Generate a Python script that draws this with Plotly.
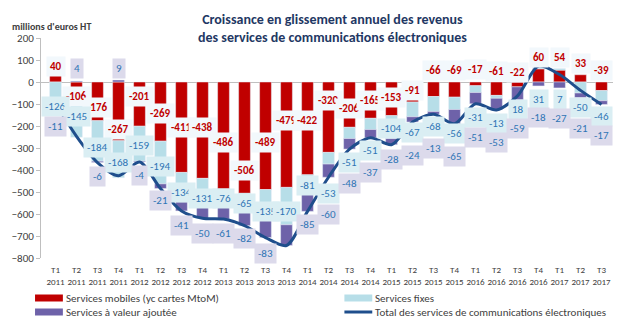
import plotly.graph_objects as go

quarters = ["T1<br>2011", "T2<br>2011", "T3<br>2011", "T4<br>2011",
            "T1<br>2012", "T2<br>2012", "T3<br>2012", "T4<br>2012",
            "T1<br>2013", "T2<br>2013", "T3<br>2013", "T4<br>2013",
            "T1<br>2014", "T2<br>2014", "T3<br>2014", "T4<br>2014",
            "T1<br>2015", "T2<br>2015", "T3<br>2015", "T4<br>2015",
            "T1<br>2016", "T2<br>2016", "T3<br>2016", "T4<br>2016",
            "T1<br>2017", "T2<br>2017", "T3<br>2017"]

mobiles = [40, -106, -176, -267, -201, -269, -411, -438, -486, -506, -489, -479, -422,
           -320, -206, -165, -153, -91, -66, -69, -17, -61, -22, 60, 54, 33, -39]
fixes = [-126, -145, -184, -168, -159, -194, -134, -131, -76, -65, -135, -170, -81,
         -53, -51, -51, -104, -67, -68, -56, -31, -13, 18, 31, 7, -50, -46]
vas = [-11, 4, -6, 9, -4, -21, -41, -50, -61, -82, -83, -94, -85,
       -60, -48, -37, -28, -24, -13, -65, -51, -53, -59, -18, -27, -21, -17]
total = [m + f + v for m, f, v in zip(mobiles, fixes, vas)]

# label anchor positions (value-axis units), as placed in the original chart
lbl_mob = [70, -64, -115, -215, -64, -143, -205, -205, -273, -400, -273, -174, -174,
           -83, -121, -83, -69, -38, 53, 53, 58, 49, 45, 113, 113, 85, 53]
lbl_fix = [-111, -156, -296, -365, -288, -386, -502, -530, -530, -553, -590, -590, -470,
           -507, -365, -311, -211, -229, -202, -234, -160, -188, -125, -80, -80, -115, -156]
lbl_vas = [-202, 62, -429, 62, -424, -538, -652, -688, -688, -711, -779, -802, -647,
           -602, -461, -411, -352, -334, -302, -338, -252, -273, -211, -160, -165, -211, -243]

C_MOB = "#C00000"
C_FIX = "#B7DEE8"
C_VAS = "#6E62A9"
C_TOT = "#1F4E8C"
FONT = "Calibri, Carlito, Lato, sans-serif"

W, H = 630, 326
ML, MR, MT, MB = 38, 17, 38, 68

fig = go.Figure()
fig.add_trace(go.Bar(x=quarters, y=mobiles, marker_color=C_MOB, name="Services mobiles (yc cartes MtoM)"))
fig.add_trace(go.Bar(x=quarters, y=fixes, marker_color=C_FIX, name="Services fixes"))
fig.add_trace(go.Bar(x=quarters, y=vas, marker_color=C_VAS, name="Services à valeur ajoutée"))
fig.add_trace(go.Scatter(x=quarters, y=total, mode="lines", line=dict(color=C_TOT, width=3, shape="spline", smoothing=0.8),
                         name="Total des services de communications électroniques"))

anns = []
for i, q in enumerate(quarters):
    anns.append(dict(x=q, y=lbl_mob[i], text="<b>%d</b>" % mobiles[i], showarrow=False,
                     font=dict(family=FONT, size=11, color=C_MOB), bgcolor="#F2F8FC", borderpad=3))
for i, q in enumerate(quarters):
    anns.append(dict(x=q, y=lbl_fix[i], text="%d" % fixes[i], showarrow=False,
                     font=dict(family=FONT, size=11, color="#2F75B5"), bgcolor="#DAEEF3", borderpad=3))
for i, q in enumerate(quarters):
    anns.append(dict(x=q, y=lbl_vas[i], text="%d" % vas[i], showarrow=False,
                     font=dict(family=FONT, size=11, color="#2F75B5"), bgcolor="#DCDAEB", borderpad=3))

PW = W - ML - MR
PH = H - MT - MB
def px(x):
    return (x - ML) / PW
def py(y):
    return (H - MB - y) / PH

# title and axis title
anns.append(dict(xref="paper", yref="paper", x=px(331), y=py(28), xanchor="center", yanchor="middle",
                 text="<b>Croissance en glissement annuel des revenus<br>des services de communications électroniques</b>",
                 showarrow=False, font=dict(family=FONT, size=14, color="#1F3864")))
anns.append(dict(xref="paper", yref="paper", x=px(7), y=py(26), xanchor="left", yanchor="middle",
                 text="<b>millions d'euros HT</b>", showarrow=False, font=dict(family=FONT, size=10, color="#404040")))

shapes = []
legend = [(32, 298, C_MOB, "Services mobiles (yc cartes MtoM)", "bar"),
          (343, 298, C_FIX, "Services fixes", "bar"),
          (32, 312, C_VAS, "Services à valeur ajoutée", "bar"),
          (343, 312, C_TOT, "Total des services de communications électroniques", "line")]
for x0, yc, col, txt, kind in legend:
    if kind == "bar":
        shapes.append(dict(type="rect", xref="paper", yref="paper", x0=px(x0), x1=px(x0 + 28),
                           y0=py(yc + 3.5), y1=py(yc - 3.5), fillcolor=col, line=dict(width=0)))
    else:
        shapes.append(dict(type="line", xref="paper", yref="paper", x0=px(x0), x1=px(x0 + 28),
                           y0=py(yc), y1=py(yc), line=dict(color=col, width=3)))
    anns.append(dict(xref="paper", yref="paper", x=px(x0 + 29), y=py(yc), xanchor="left", yanchor="middle",
                     text=txt, showarrow=False, font=dict(family=FONT, size=11, color="#404040")))

fig.update_layout(
    width=W, height=H, margin=dict(l=ML, r=MR, t=MT, b=MB),
    barmode="relative", bargap=0.44,
    plot_bgcolor="white", paper_bgcolor="white",
    showlegend=False,
    annotations=anns, shapes=shapes,
    font=dict(family=FONT, color="#404040"),
)
fig.update_xaxes(showgrid=False, showline=False, ticks="", tickfont=dict(family=FONT, size=9, color="#404040"),
                 tickangle=0, ticklabelstandoff=5)
fig.update_yaxes(range=[-800, 200], dtick=100, showgrid=False, showline=True, linecolor="#BFBFBF",
                 ticks="outside", ticklen=4, tickcolor="#BFBFBF", zeroline=True, zerolinecolor="#BFBFBF",
                 zerolinewidth=1, tickfont=dict(family=FONT, size=11, color="#404040"))

fig.write_html("out.html")
